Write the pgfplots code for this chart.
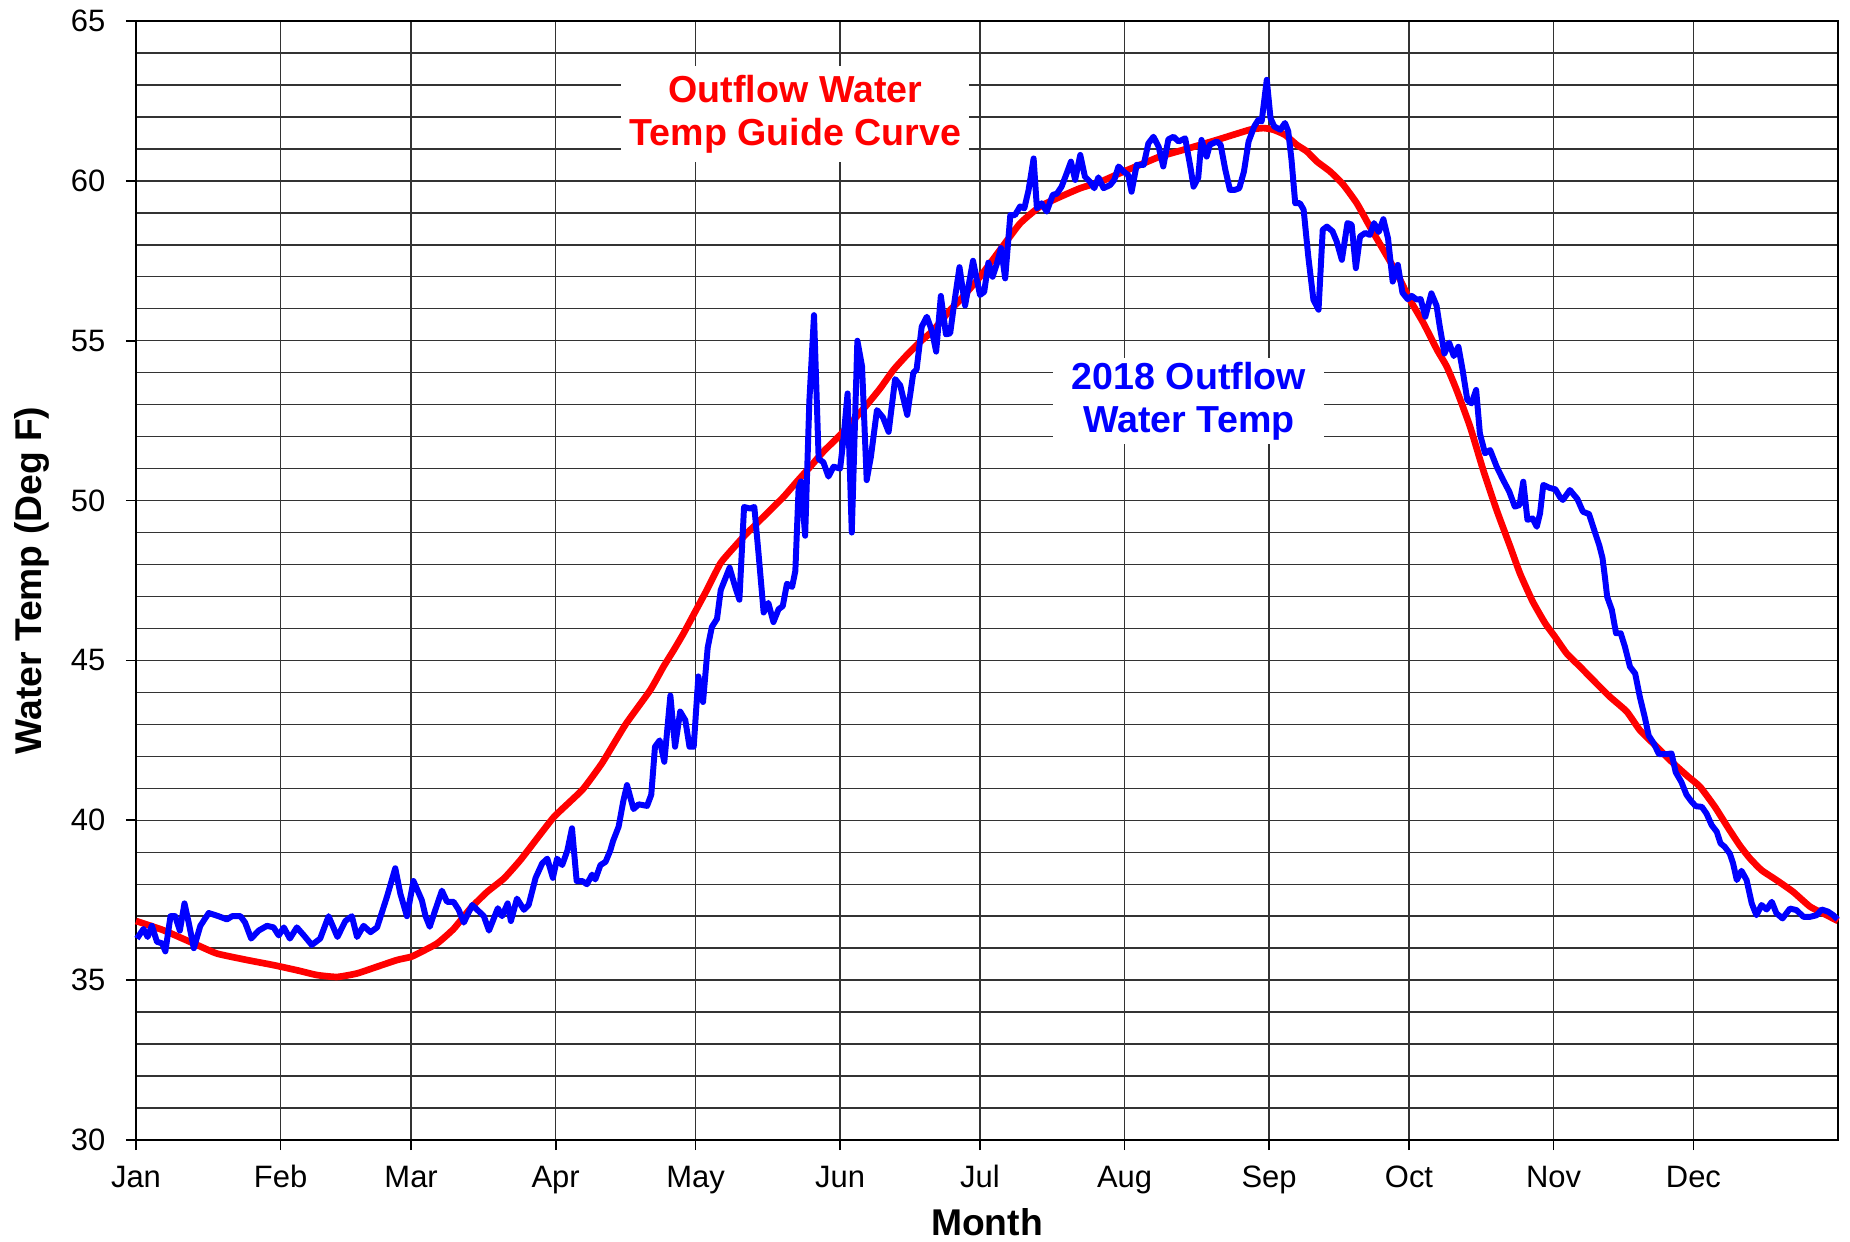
\documentclass[border=0pt]{standalone}
\usepackage{fontspec}
\setmainfont{Liberation Sans}
\usepackage{pgfplots}
\pgfplotsset{compat=1.18}
\definecolor{pr}{RGB}{255,0,0}
\definecolor{pb}{RGB}{0,0,255}
\begin{document}
\begin{tikzpicture}
\useasboundingbox (-1.36cm,-1.01cm) rectangle (17.14cm,11.40cm);
\begin{axis}[
 at={(0,0)}, anchor=south west,
 scale only axis, width=17.02cm, height=11.19cm,
 xmin=0, xmax=365, ymin=30, ymax=65,
 xtick={0,31,59,90,120,151,181,212,243,273,304,334},
 xticklabels={Jan,Feb,Mar,Apr,May,Jun,Jul,Aug,Sep,Oct,Nov,Dec},
 ytick={30,35,...,65},
 minor ytick={31,...,64},
 xtick pos=bottom, ytick pos=left,
 xmajorgrids, ymajorgrids, yminorgrids,
 grid style={black!80, line width=0.4pt},
 minor grid style={black!80, line width=0.4pt},
 tick align=outside, major tick length=0.1cm, minor tick length=0pt,
 tick style={black, line width=0.5pt},
 axis line style={black, line width=0.6pt},
 ticklabel style={font=\fontsize{8.8}{10}\selectfont},
 /pgf/number format/assume math mode=true,
 xticklabel style={anchor=base, inner sep=0pt, yshift=-0.374cm},
 yticklabel style={anchor=east, inner sep=0pt, xshift=-0.2cm},
 xlabel={\textbf{Month}},
 xlabel style={at={(rel axis cs:0.5,-0.0849)}, anchor=base, inner sep=0pt, font=\fontsize{10.6}{12}\selectfont},
 ylabel={\textbf{Water Temp (Deg F)}},
 ylabel style={at={(rel axis cs:-0.0614,0.5)}, anchor=center, inner sep=0pt, rotate=0, font=\fontsize{10.6}{12}\selectfont},
 clip=false,
]
\node[fill=white, text=pr, font=\bfseries\fontsize{10.7}{12.4}\selectfont, align=center, minimum width=3.48cm, minimum height=0.96cm, inner sep=0pt] at (axis cs:141.4,62.08) {Outflow Water\\Temp Guide Curve};
\node[fill=white, text=pb, font=\bfseries\fontsize{10.7}{12.4}\selectfont, align=center, minimum width=2.71cm, minimum height=0.86cm, inner sep=0pt] at (axis cs:225.8,53.1) {2018 Outflow\\Water Temp};

\addplot[pr, line width=1.9pt, smooth, tension=0.3] coordinates {
(0,36.85) (5.9,36.56) (13.1,36.1) (17.4,35.83) (23.8,35.63) (29.5,35.47) (34.5,35.31) (38.8,35.16) (43.1,35.1) (47.4,35.21) (51.7,35.42) (56,35.63) (59,35.73) (61,35.87) (64.6,36.15) (68.1,36.6) (71.7,37.24) (75.3,37.76) (78.9,38.18) (82.4,38.75) (86,39.43) (89.6,40.1) (93.2,40.6) (96,41.0) (100,41.8) (105,43.0) (110.27,44.07) (113.1,44.8) (115.3,45.32) (117.4,45.84) (119.9,46.52) (122.4,47.2) (125.3,48.03) (127.4,48.4) (130.3,48.87) (133.1,49.28) (136,49.7) (138.9,50.12) (141.7,50.59) (144.6,51.06) (147.4,51.53) (151,52.05) (153.9,52.52) (156.7,52.99) (159.6,53.51) (162.4,54.08) (165.3,54.55) (168.2,54.97) (171,55.33) (174.6,55.96) (176.7,56.27) (181,57.0) (185.3,57.84) (189.6,58.67) (193.9,59.2) (198.2,59.5) (202.5,59.77) (206.8,59.97) (211,60.24) (215.3,60.5) (219.6,60.76) (224.6,60.97) (231.8,61.28) (238.9,61.6) (241.8,61.65) (243.9,61.6) (246.4,61.44) (248.9,61.13) (251.1,60.92) (253.2,60.61) (256.1,60.29) (258.9,59.88) (261.8,59.3) (264.6,58.57) (267.5,57.84) (270.4,57.11) (273.2,56.28) (276.1,55.55) (279,54.72) (281.1,54.19) (283.2,53.46) (286.1,52.31) (288.9,50.96) (291.8,49.7) (294.7,48.56) (296.8,47.72) (299.5,46.85) (302.2,46.16) (304.3,45.74) (306.8,45.22) (309.7,44.8) (313.2,44.28) (316.1,43.86) (319.7,43.4) (322.5,42.82) (326.1,42.3) (329.7,41.78) (332.9,41.36) (335.4,41.05) (338.6,40.42) (341.5,39.75) (344,39.2) (346.1,38.81) (348.6,38.44) (351.8,38.13) (355.4,37.76) (359,37.3) (362.6,37.03) (365,36.85)
};

\addplot[pb, line width=1.7pt, line join=round] coordinates {
(0.2,36.3) (1.6,36.6) (2.5,36.35) (3.4,36.7) (4.5,36.2) (5.6,36.15) (6.3,35.9) (7.4,37.0) (8.4,37.0) (9.4,36.55) (10.4,37.4) (11.3,36.8) (12.4,36.0) (13.8,36.7) (15.6,37.1) (17.7,37.0) (19.5,36.9) (20.6,37.0) (22.4,37.0) (23.4,36.8) (24.7,36.3) (26.3,36.55) (28.1,36.7) (29.5,36.65) (30.6,36.4) (31.7,36.65) (33.0,36.3) (34.5,36.65) (36.0,36.4) (37.7,36.1) (39.5,36.3) (41.3,37.0) (43.2,36.35) (44.9,36.85) (46.3,37.0) (47.4,36.35) (48.8,36.7) (50.3,36.5) (51.7,36.65) (53.8,37.6) (55.6,38.5) (56.7,37.7) (58.1,37.0) (59.5,38.1) (61.3,37.5) (62.1,37.0) (63.0,36.67) (64.2,37.2) (65.6,37.8) (66.7,37.45) (68.1,37.45) (69.2,37.2) (70.3,36.8) (72.1,37.35) (73.9,37.1) (74.6,37.0) (75.7,36.55) (77.6,37.25) (78.5,37.0) (79.7,37.4) (80.4,36.85) (81.7,37.55) (83.2,37.2) (84.2,37.35) (85.7,38.2) (87.1,38.65) (88.2,38.8) (89.4,38.2) (90.3,38.8) (91.4,38.6) (92.5,39.05) (93.5,39.75) (94.5,38.1) (95.7,38.1) (96.7,38.0) (97.8,38.3) (98.5,38.15) (99.6,38.6) (100.7,38.7) (101.7,39.05) (102.3,39.35) (103.5,39.8) (104.5,40.6) (105.3,41.1) (106.7,40.35) (107.8,40.5) (109.6,40.45) (110.5,40.8) (111.3,42.3) (112.3,42.5) (113.3,41.83) (114.6,43.9) (115.6,42.3) (116.7,43.4) (117.8,43.13) (118.7,42.3) (119.6,42.3) (120.6,44.5) (121.6,43.7) (122.6,45.4) (123.5,46.05) (124.6,46.3) (125.4,47.2) (127.3,47.9) (128.5,47.3) (129.4,46.9) (130.4,49.8) (131.7,49.75) (132.6,49.8) (133.5,48.35) (134.6,46.5) (135.6,46.8) (136.7,46.2) (137.8,46.6) (138.7,46.7) (139.6,47.4) (140.7,47.3) (141.4,47.8) (142.1,50.4) (142.6,50.6) (143.5,48.9) (144.4,53.1) (145.4,55.8) (146.4,51.3) (147.4,51.2) (148.5,50.75) (149.6,51.06) (151.0,51.0) (151.7,51.9) (152.6,53.35) (153.5,49.0) (154.7,55.0) (155.7,54.2) (156.7,50.64) (157.6,51.37) (158.9,52.83) (160.2,52.6) (161.4,52.15) (162.8,53.8) (163.9,53.6) (165.4,52.68) (166.7,54.0) (167.4,54.1) (168.5,55.44) (169.6,55.75) (170.7,55.3) (171.6,54.66) (172.6,56.4) (173.7,55.2) (174.6,55.23) (175.4,56.1) (176.6,57.3) (177.8,56.1) (179.5,57.5) (181.0,56.43) (181.9,56.53) (182.8,57.44) (183.7,57.0) (184.6,57.4) (185.5,57.9) (186.4,56.95) (187.5,58.93) (188.5,58.93) (189.6,59.2) (190.5,59.14) (191.4,59.7) (192.5,60.7) (193.2,59.14) (194.2,59.3) (195.3,59.04) (196.6,59.56) (197.5,59.6) (198.5,59.82) (199.6,60.24) (200.5,60.6) (201.4,60.03) (202.5,60.81) (203.5,60.13) (204.6,59.97) (205.5,59.77) (206.4,60.11) (207.5,59.77) (208.9,59.87) (209.8,60.03) (210.7,60.45) (211.8,60.29) (212.8,60.18) (213.5,59.66) (214.6,60.5) (216.1,60.5) (217.1,61.17) (218.2,61.38) (219.3,61.07) (220.3,60.45) (221.4,61.3) (222.5,61.38) (223.6,61.23) (225.0,61.33) (226.1,60.45) (226.8,59.82) (227.8,60.1) (228.5,61.28) (229.6,60.76) (230.3,61.13) (231.8,61.23) (232.6,61.13) (233.6,60.35) (234.6,59.72) (235.7,59.72) (236.6,59.77) (237.6,60.29) (238.6,61.23) (239.8,61.7) (240.7,61.91) (241.4,61.86) (242.5,63.16) (243.3,61.96) (244.1,61.7) (245.4,61.6) (246.4,61.81) (247.1,61.55) (247.8,60.66) (248.6,59.3) (249.6,59.3) (250.4,59.1) (251.4,57.63) (252.5,56.28) (253.6,55.97) (254.5,58.47) (255.4,58.57) (256.6,58.42) (257.5,58.1) (258.6,57.53) (259.8,58.68) (260.7,58.63) (261.6,57.27) (262.5,58.26) (263.6,58.37) (264.6,58.31) (265.5,58.68) (266.5,58.4) (267.5,58.8) (268.5,58.2) (269.5,56.85) (270.6,57.37) (271.6,56.5) (272.7,56.3) (273.6,56.4) (274.6,56.29) (275.5,56.3) (276.5,55.75) (277.8,56.48) (278.9,56.1) (279.6,55.44) (280.6,54.6) (281.6,54.94) (282.6,54.52) (283.6,54.81) (284.5,54.08) (285.5,53.15) (286.4,53.04) (287.4,53.46) (288.2,52.1) (289.3,51.48) (290.4,51.58) (291.8,51.06) (293.2,50.64) (294.5,50.28) (295.7,49.81) (296.7,49.86) (297.5,50.59) (298.4,49.4) (299.5,49.44) (300.4,49.18) (301.1,49.6) (301.8,50.49) (303.1,50.4) (304.4,50.35) (305.4,50.1) (306.0,50.02) (307.5,50.33) (309.1,50.05) (310.3,49.65) (311.6,49.58) (313.0,48.95) (313.8,48.6) (314.5,48.2) (315.0,47.62) (315.5,46.99) (316.5,46.58) (317.4,45.85) (318.4,45.85) (319.3,45.43) (320.4,44.8) (321.5,44.59) (322.5,43.86) (323.6,43.2) (324.4,42.65) (325.5,42.4) (326.6,42.07) (328.3,42.07) (329.3,42.09) (330.2,41.5) (331.4,41.2) (332.5,40.8) (333.5,40.6) (334.5,40.44) (335.8,40.42) (336.8,40.21) (337.9,39.85) (339.0,39.64) (339.8,39.28) (340.7,39.17) (341.8,38.96) (342.5,38.65) (343.3,38.13) (344.3,38.42) (345.4,38.13) (346.5,37.4) (347.5,37.03) (348.6,37.35) (349.7,37.21) (350.8,37.45) (351.8,37.09) (353.1,36.93) (354.7,37.24) (356.1,37.19) (357.6,36.98) (359.0,36.98) (360.4,37.03) (361.5,37.21) (362.9,37.14) (364.0,37.03) (364.9,36.9)
};
\end{axis}
\end{tikzpicture}
\end{document}
